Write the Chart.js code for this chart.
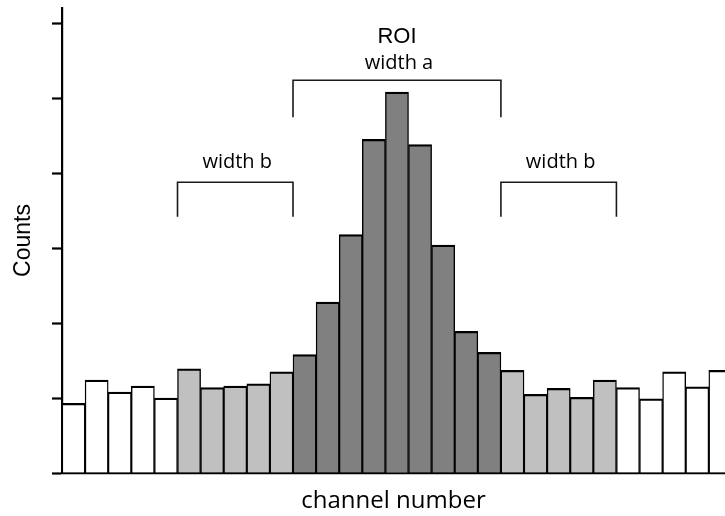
<!DOCTYPE html>
<html>
<head>
<meta charset="utf-8">
<script src="https://cdn.jsdelivr.net/npm/chart.js@4/dist/chart.umd.min.js"></script>
<style>
  html, body { margin: 0; padding: 0; background: #fff; overflow: hidden; }
  #wrap { width: 725px; height: 516px; }
</style>
</head>
<body>
<div id="wrap"><canvas id="c" width="725" height="516"></canvas></div>
<script>
// Channel numbers and the counts recorded in each channel
const channels = [1, 2, 3, 4, 5, 6, 7, 8, 9, 10, 11, 12, 13, 14, 15, 16, 17, 18, 19, 20, 21, 22, 23, 24, 25, 26, 27, 28, 29];
const counts = [0.93, 1.24, 1.08, 1.16, 1.00, 1.39, 1.14, 1.16, 1.19, 1.35, 1.58, 2.28, 3.18, 4.45, 5.08, 4.38, 3.04, 1.89, 1.61, 1.37, 1.05, 1.13, 1.01, 1.24, 1.14, 0.99, 1.35, 1.15, 1.37];
const yTicks = [0, 1, 2, 3, 4, 5, 6];

// Region of interest and the two background windows (channel ranges)
const roiChannels = [11, 19];
const bgLeftChannels = [6, 10];
const bgRightChannels = [20, 24];

// Bracket annotations
const roiTitle = 'ROI';
const roiLabel = 'width a';
const bgLabel = 'width b';

const WHITE = '#ffffff', LIGHT = '#c0c0c0', DARK = '#808080';

function regionColor(ch) {
  if (ch >= roiChannels[0] && ch <= roiChannels[1]) return DARK;
  if ((ch >= bgLeftChannels[0] && ch <= bgLeftChannels[1]) ||
      (ch >= bgRightChannels[0] && ch <= bgRightChannels[1])) return LIGHT;
  return WHITE;
}

// Draws the brackets over the ROI and background windows
const bracketPlugin = {
  id: 'brackets',
  afterDatasetsDraw(chart) {
    const { ctx, scales: { x, y } } = chart;
    ctx.save();
    ctx.strokeStyle = '#1a1a1a';
    ctx.lineWidth = 1.6;
    ctx.fillStyle = '#000';
    ctx.textAlign = 'center';
    ctx.textBaseline = 'alphabetic';

    function bracket(range, yTop, yBottom) {
      const x0 = x.getPixelForValue(range[0] - 0.5);
      const x1 = x.getPixelForValue(range[1] + 0.5);
      const yt = y.getPixelForValue(yTop);
      const yb = y.getPixelForValue(yBottom);
      ctx.beginPath();
      ctx.moveTo(x0, yb);
      ctx.lineTo(x0, yt);
      ctx.lineTo(x1, yt);
      ctx.lineTo(x1, yb);
      ctx.stroke();
      return (x0 + x1) / 2;
    }

    const cRoi = bracket(roiChannels, 5.236, 4.743);
    const cL = bracket(bgLeftChannels, 3.876, 3.417);
    const cR = bracket(bgRightChannels, 3.876, 3.417);

    ctx.font = '22px "Liberation Sans", Arial, sans-serif';
    ctx.fillText(roiTitle, cRoi, y.getPixelForValue(5.737));
    ctx.font = '20px "Open Sans", sans-serif';
    ctx.fillText(roiLabel, cRoi + 2, y.getPixelForValue(5.387));
    ctx.fillText(bgLabel, cL + 2, y.getPixelForValue(4.07));
    ctx.fillText(bgLabel, cR + 2, y.getPixelForValue(4.07));
    ctx.restore();
  }
};

new Chart(document.getElementById('c'), {
  type: 'bar',
  data: {
    datasets: [{
      data: channels.map((ch, i) => ({ x: ch, y: counts[i] })),
      backgroundColor: channels.map(regionColor),
      borderColor: '#000',
      borderWidth: { top: 2.4, left: 1.4, right: 1.4, bottom: 0 },
      borderSkipped: false,
      barPercentage: 1,
      categoryPercentage: 1
    }]
  },
  options: {
    responsive: false,
    animation: false,
    events: [],
    layout: { padding: { top: 8, right: 0, bottom: 0, left: 0 } },
    plugins: { legend: { display: false }, tooltip: { enabled: false } },
    scales: {
      x: {
        type: 'linear',
        min: 0.5,
        max: 29.2,
        offset: false,
        grid: { display: false, offset: false },
        border: { display: true, color: '#000', width: 2.2 },
        ticks: { display: false },
        title: {
          display: true,
          text: 'channel number',
          color: '#000',
          font: { family: '"Open Sans", sans-serif', size: 24 },
          padding: { top: 0, bottom: 0 }
        },
        afterFit(scale) { scale.height = 43; }
      },
      y: {
        min: 0,
        max: 6.2,
        afterBuildTicks(scale) { scale.ticks = yTicks.map(v => ({ value: v })); },
        grid: {
          display: true,
          drawOnChartArea: false,
          drawTicks: true,
          tickLength: 10,
          tickWidth: 2.2,
          tickColor: '#000'
        },
        border: { display: true, color: '#000', width: 2.2 },
        ticks: { display: false },
        title: {
          display: true,
          text: 'Counts',
          color: '#000',
          font: { family: '"Liberation Sans", Arial, sans-serif', size: 23 },
          padding: { top: 10, bottom: 0 }
        },
        afterFit(scale) { scale.width = 62; }
      }
    }
  },
  plugins: [bracketPlugin]
});
</script>
</body>
</html>
